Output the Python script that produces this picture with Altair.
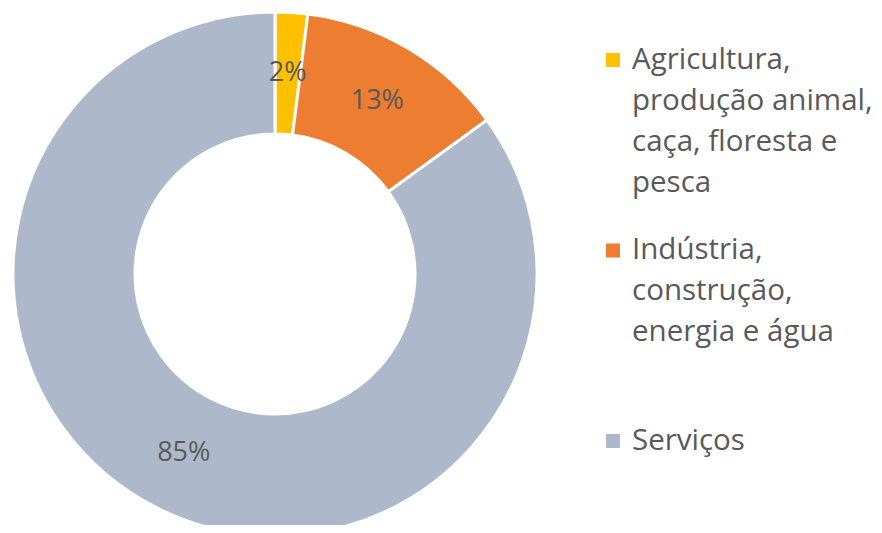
import altair as alt
import pandas as pd

# ---- data ----
categories = [
    "Agricultura, produção animal, caça, floresta e pesca",
    "Indústria, construção, energia e água",
    "Serviços",
]
legend_labels = [
    "Agricultura,\nprodução animal,\ncaça, floresta e\npesca",
    "Indústria,\nconstrução,\nenergia e água",
    "Serviços",
]
values = [2, 13, 85]
colors = ["#FFC000", "#ED7D31", "#ADB9CA"]

df = pd.DataFrame({
    "categoria": categories,
    "legenda": legend_labels,
    "valor": values,
    "ordem": list(range(len(categories))),
    "rotulo": [f"{v}%" for v in values],
})

FONT = "Open Sans"
TEXT_COLOR = "#595959"
CX, CY = 267, 266
R_OUT, R_IN = 262, 140

color = alt.Color("categoria:N", scale=alt.Scale(domain=categories, range=colors), legend=None)
theta = alt.Theta("valor:Q", stack=True)
order = alt.Order("ordem:Q")

base = alt.Chart(df)

donut = base.mark_arc(radius=R_OUT, radius2=R_IN, stroke="white", strokeWidth=3, clip=True).encode(
    theta=theta, color=color, order=order,
    x=alt.value(CX), y=alt.value(CY),
)

pct = base.mark_text(radius=(R_OUT + R_IN) / 2, font=FONT, fontSize=27, color=TEXT_COLOR).encode(
    theta=theta, order=order, text="rotulo:N",
    x=alt.value(CX), y=alt.value(CY),
)

ypos = alt.Y("categoria:N", scale=alt.Scale(domain=categories, range=[52, 433], padding=0), axis=None)

leg_sq = base.mark_square(size=196, opacity=1, filled=True).encode(
    y=ypos, color=color, x=alt.value(605),
)

leg_txt = base.mark_text(
    align="left", baseline="line-top", dy=-20.5, lineHeight=41, lineBreak="\n",
    font=FONT, fontSize=29.5, color=TEXT_COLOR,
).encode(
    y=ypos, text="legenda:N", x=alt.value(624),
)

chart = alt.layer(donut, pct, leg_sq, leg_txt).properties(
    width=866, height=517, padding=0,
    autosize=alt.AutoSizeParams(type="none"),
).configure_view(stroke=None)

chart.save("out.html", embed_options={"renderer": "svg", "actions": False})
